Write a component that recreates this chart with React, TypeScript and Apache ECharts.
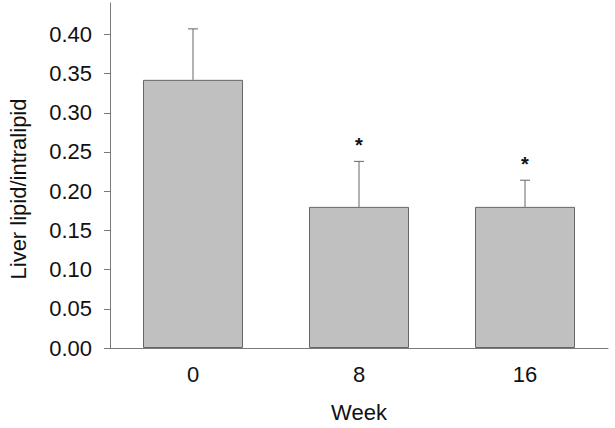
import React, { useEffect, useRef } from "react";
import * as echarts from "echarts";

const categories = ["0", "8", "16"];
const means = [0.342, 0.18, 0.18];
const upperErrors = [0.407, 0.238, 0.214];
const significance = ["", "*", "*"];
const yTicks = [0, 0.05, 0.1, 0.15, 0.2, 0.25, 0.3, 0.35, 0.4];
const yAxisTitle = "Liver lipid/intralipid";
const xAxisTitle = "Week";

export default function App() {
  const ref = useRef<HTMLDivElement>(null);
  useEffect(() => {
    if (!ref.current) return;
    const chart = echarts.init(ref.current, null, { renderer: "svg" });
    const font = "Liberation Sans, Arial, sans-serif";
    chart.setOption({
      animation: false,
      grid: { left: 110, right: 7, top: 3, bottom: 76 },
      graphic: [
        {
          type: "text",
          x: 18,
          y: 189,
          rotation: Math.PI / 2,
          style: {
            text: yAxisTitle,
            fontSize: 22,
            fontFamily: font,
            fill: "#111",
            textAlign: "center",
            textVerticalAlign: "middle",
          },
        },
      ],
      xAxis: {
        type: "category",
        data: categories,
        axisLine: { lineStyle: { color: "#7a7a7a", width: 1 } },
        axisTick: { show: false },
        axisLabel: { color: "#111", fontSize: 22, fontFamily: font, margin: 15 },
        name: xAxisTitle,
        nameLocation: "middle",
        nameGap: 53,
        nameTextStyle: { color: "#111", fontSize: 22, fontFamily: font },
      },
      yAxis: {
        type: "value",
        min: 0,
        max: 0.44,
        interval: 0.05,
        splitLine: { show: false },
        axisLine: { show: true, lineStyle: { color: "#7a7a7a", width: 1 } },
        axisTick: { show: true, length: 6, customValues: yTicks, lineStyle: { color: "#7a7a7a" } },
        axisLabel: {
          color: "#111",
          fontSize: 22,
          fontFamily: font,
          margin: 18,
          customValues: yTicks,
          formatter: (v: number) => v.toFixed(2),
        },
      },
      series: [
        {
          type: "bar",
          data: means,
          barWidth: 100,
          itemStyle: { color: "#c0c0c0", borderColor: "#666", borderWidth: 1 },
        },
        {
          type: "custom",
          data: categories.map((_, i) => [i, means[i], upperErrors[i]]),
          renderItem: (params: any, api: any) => {
            const i = api.value(0);
            const base = api.coord([i, api.value(1)]);
            const top = api.coord([i, api.value(2)]);
            const cap = 5;
            const children: any[] = [
              {
                type: "line",
                shape: { x1: base[0], y1: base[1], x2: top[0], y2: top[1] },
                style: { stroke: "#666", lineWidth: 1 },
              },
              {
                type: "line",
                shape: { x1: top[0] - cap, y1: top[1], x2: top[0] + cap, y2: top[1] },
                style: { stroke: "#666", lineWidth: 1 },
              },
            ];
            const s = significance[params.dataIndex];
            if (s) {
              children.push({
                type: "text",
                style: {
                  text: s,
                  x: top[0],
                  y: top[1] - 6,
                  textAlign: "center",
                  textVerticalAlign: "bottom",
                  fontSize: 20,
                  fontWeight: "bold",
                  fontFamily: font,
                  fill: "#111",
                },
              });
            }
            return { type: "group", children };
          },
          z: 5,
        },
      ],
    });
    return () => chart.dispose();
  }, []);
  return <div ref={ref} style={{ width: 615, height: 428, position: "absolute", left: 0, top: 0 }} />;
}
